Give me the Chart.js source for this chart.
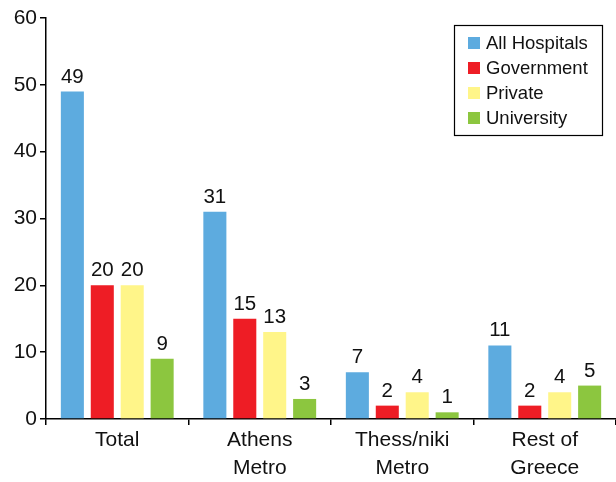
<!DOCTYPE html>
<html>
<head>
<meta charset="utf-8">
<script src="https://cdn.jsdelivr.net/npm/chart.js@4/dist/chart.umd.min.js"></script>
<style>
  html, body { margin: 0; padding: 0; background: #fff; }
  #wrap { width: 616px; height: 482px; }
</style>
</head>
<body>
<div id="wrap"><canvas id="chart" width="616" height="482"></canvas></div>
<script>
// Data
const categories = [['Total'], ['Athens', 'Metro'], ['Thess/niki', 'Metro'], ['Rest of', 'Greece']];
const allHospitals = [49, 31, 7, 11];
const government = [20, 15, 2, 2];
const privateHosp = [20, 13, 4, 4];
const university = [9, 3, 1, 5];
const yTicks = [0, 10, 20, 30, 40, 50, 60];

const FONT = '"Liberation Sans", Arial, sans-serif';

// Value labels above each bar
const barLabels = {
    id: 'barLabels',
    afterDatasetsDraw(chart) {
        const ctx = chart.ctx;
        ctx.save();
        ctx.font = '20.5px ' + FONT;
        ctx.fillStyle = '#111';
        ctx.textAlign = 'center';
        ctx.textBaseline = 'alphabetic';
        chart.data.datasets.forEach((ds, i) => {
            chart.getDatasetMeta(i).data.forEach((bar, j) => {
                ctx.fillText(String(ds.data[j]), bar.x, bar.y - 9);
            });
        });
        ctx.restore();
    }
};

// Boxed legend in the top right corner
const boxLegend = {
    id: 'boxLegend',
    afterDraw(chart) {
        const ctx = chart.ctx;
        const x0 = 454, y0 = 25, w = 148, h = 110;
        ctx.save();
        ctx.strokeStyle = '#000';
        ctx.lineWidth = 1.2;
        ctx.strokeRect(x0 + 0.5, y0 + 0.5, w, h);
        ctx.font = '18.5px ' + FONT;
        ctx.textBaseline = 'middle';
        chart.data.datasets.forEach((ds, i) => {
            const cy = y0 + 18 + i * 25;
            ctx.fillStyle = ds.backgroundColor;
            ctx.fillRect(x0 + 14, cy - 6, 12, 12);
            ctx.fillStyle = '#111';
            ctx.fillText(ds.label, x0 + 32, cy + 1);
        });
        ctx.restore();
    }
};

const ctx = document.getElementById('chart').getContext('2d');
new Chart(ctx, {
    type: 'bar',
    data: {
        labels: categories,
        datasets: [
            { label: 'All Hospitals', data: allHospitals, backgroundColor: '#5dabdf' },
            { label: 'Government', data: government, backgroundColor: '#ee1d25' },
            { label: 'Private', data: privateHosp, backgroundColor: '#fff589' },
            { label: 'University', data: university, backgroundColor: '#8cc63f' }
        ]
    },
    options: {
        responsive: false,
        animation: false,
        layout: { padding: { top: 18, right: 0, left: 0, bottom: 0 } },
        plugins: {
            legend: { display: false },
            tooltip: { enabled: false }
        },
        datasets: {
            bar: { categoryPercentage: 0.84, barPercentage: 0.77 }
        },
        scales: {
            x: {
                grid: {
                    display: true,
                    drawOnChartArea: false,
                    offset: true,
                    color: '#000',
                    lineWidth: 1.5,
                    tickLength: 6
                },
                border: { display: true, color: '#000', width: 1.5 },
                ticks: {
                    color: '#111',
                    font: { family: FONT, size: 21, lineHeight: 1.3 },
                    padding: 2,
                    maxRotation: 0
                },
                afterFit(scale) { scale.height = 63; }
            },
            y: {
                min: 0,
                max: 60,
                afterBuildTicks(scale) {
                    scale.ticks = yTicks.map(v => ({ value: v }));
                },
                grid: {
                    display: true,
                    drawOnChartArea: false,
                    color: '#000',
                    lineWidth: 1.5,
                    tickLength: 6
                },
                border: { display: true, color: '#000', width: 1.5 },
                ticks: {
                    color: '#111',
                    font: { family: FONT, size: 21 },
                    padding: 3
                },
                afterFit(scale) { scale.width = 46; }
            }
        }
    },
    plugins: [barLabels, boxLegend]
});
</script>
</body>
</html>
